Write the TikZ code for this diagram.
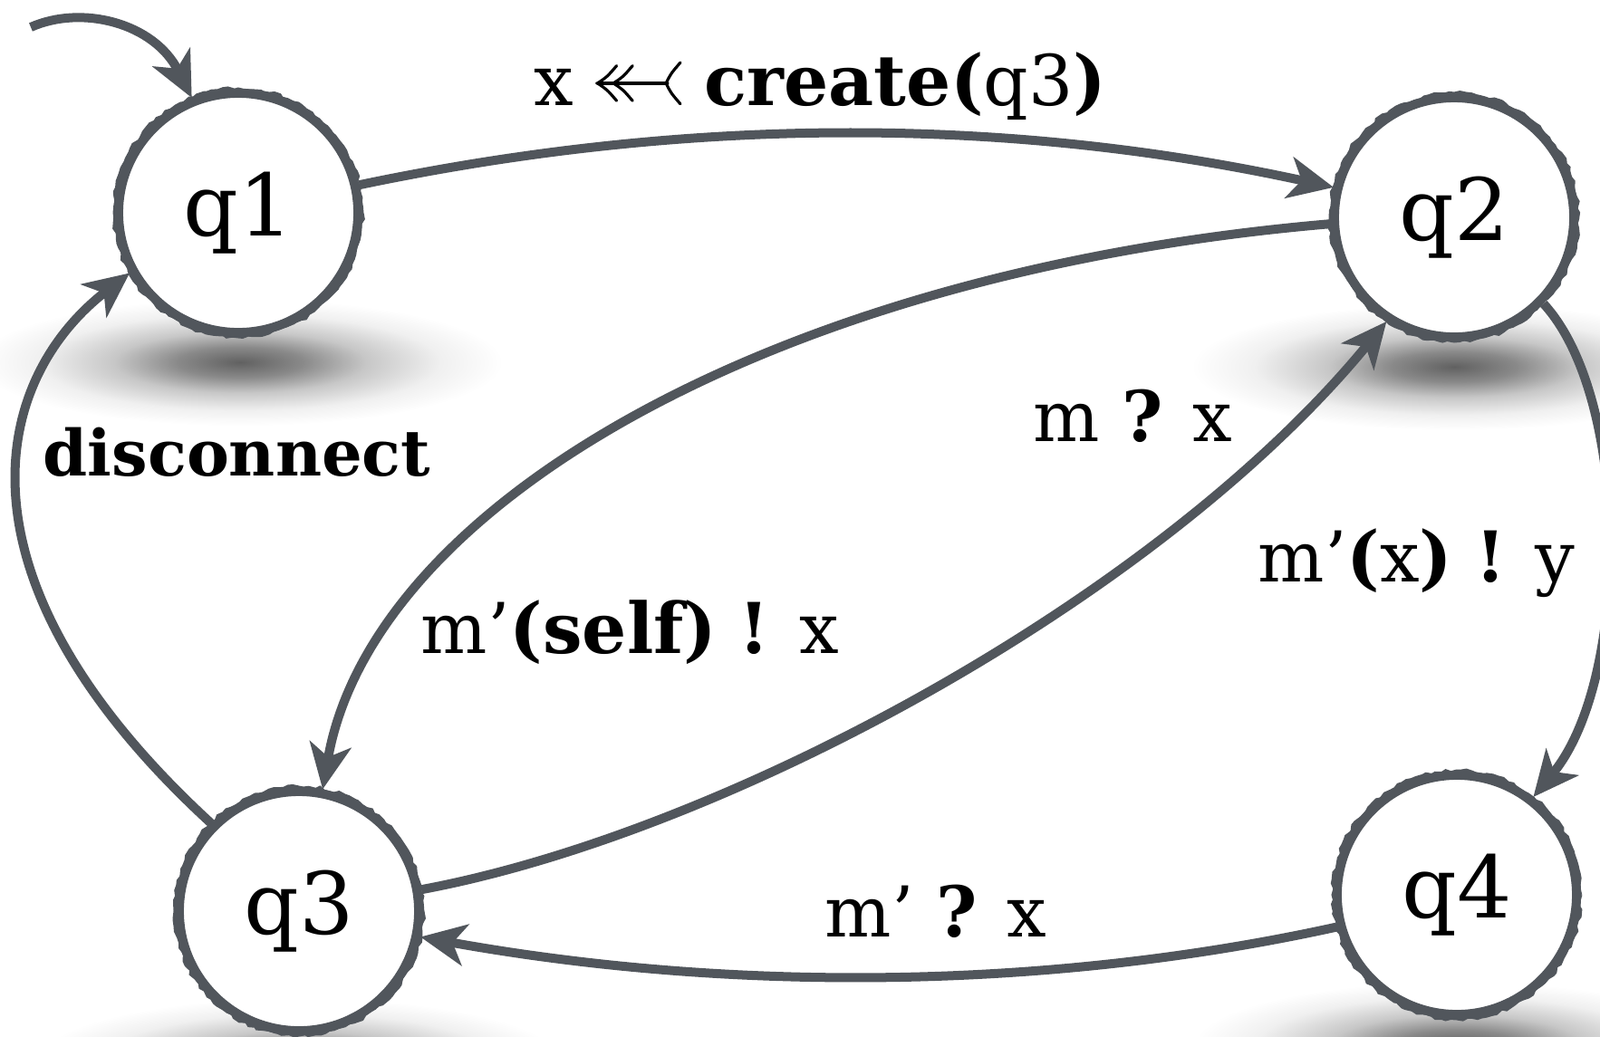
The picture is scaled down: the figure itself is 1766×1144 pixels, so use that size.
\documentclass[tikz,border=0pt]{standalone}
\usepackage{fontspec}
\setmainfont{DejaVu Serif}
\usetikzlibrary{arrows.meta,decorations.pathmorphing}
\definecolor{edgegray}{HTML}{51565C}
\pgfdeclareradialshading{nodeshadow}{\pgfpoint{0bp}{0bp}}{color(0bp)=(black!62); color(6bp)=(black!46); color(12bp)=(black!22); color(19bp)=(black!6); color(25bp)=(white); color(50bp)=(white)}
\newcommand\tailarrow{\tikz[baseline=-0.6ex,x=1pt,y=1pt,line width=0.9pt,line cap=round]{%
  \draw (1,0)--(23,0);
  \draw (7,5.5) .. controls (4,2) .. (1,0) .. controls (4,-2) .. (7,-5.5);
  \draw (12,5.5) .. controls (9,2) .. (6,0) .. controls (9,-2) .. (12,-5.5);
  \draw (27,6.5) .. controls (24,3) .. (22.5,0) .. controls (24,-3) .. (27,-6.5);}}
\begin{document}
\begin{tikzpicture}[x=0.01cm, y=-0.01cm,
  state/.style={circle, draw=edgegray, line width=0.1cm, fill=white,
    minimum size=2.64cm, inner sep=0pt, font=\fontsize{27}{30}\selectfont},
  rough/.style={draw=edgegray, line width=0.035cm, decorate,
    decoration={random steps, segment length=1.6pt, amplitude=0.5pt}},
  edge/.style={draw=edgegray, line width=0.1cm,
    -{Stealth[length=0.5cm, width=0.46cm, inset=0.14cm]}},
  lbl/.style={anchor=base west, inner sep=0pt, font=\fontsize{22}{26}\selectfont},
  nshadow/.style={shading=nodeshadow}]
\useasboundingbox (0,0) rectangle (1766,1144);
% shadows
\shade[nshadow] (265,400) ellipse [x radius=2.9cm, y radius=0.7cm];
\shade[nshadow] (1605,405) ellipse [x radius=2.9cm, y radius=0.7cm];
\shade[nshadow] (330,1172) ellipse [x radius=2.9cm, y radius=0.7cm];
\shade[nshadow] (1608,1154) ellipse [x radius=2.9cm, y radius=0.7cm];
% states
\node[state] (q1) at (263,235) {q1};
\node[state] (q2) at (1605,240) {q2};
\node[state] (q3) at (330,1006) {q3};
\node[state] (q4) at (1608,988) {q4};
\foreach \q in {q1,q2,q3,q4}{
  \draw[rough] (\q.center) circle (1.315cm);
  \draw[rough] (\q.center) circle (1.365cm);
}
% initial
\coordinate (init) at (34,30);
\draw[edge] (init) .. controls (90,5) and (170,25) .. (q1.112);
% transitions
\draw[edge] (q1.13) .. controls (760,128) and (1110,128) .. (q2.166);
\draw[edge] (q2.183) .. controls (850,300) and (410,560) .. (q3.79);
\draw[edge] (q3.10) .. controls (800,920) and (1280,660) .. (q2.237);
\draw[edge] (q2.-44) .. controls (1800,440) and (1800,750) .. (q4.52);
\draw[edge] (q4.195) .. controls (1150,1095) and (800,1095) .. (q3.-12);
\draw[edge] (q3.135) .. controls (-60,640) and (-10,420) .. (q1.209);
% labels
\node[lbl] (l12) at (589,116) {x \tailarrow{} \textbf{create(}q3\textbf{)}};
\node[lbl, font=\fontsize{20}{24}\selectfont\bfseries] (l31) at (47,525) {disconnect};
\node[lbl] (l32) at (1140,487) {m \textbf{?} x};
\node[lbl] (l24) at (1388,642) {m’\textbf{(}x\textbf{)} \textbf{!} y};
\node[lbl] (l23) at (464,721) {m’\textbf{(self)} \textbf{!} x};
\node[lbl] (l43) at (910,1034) {m’ \textbf{?} x};
\end{tikzpicture}
\end{document}
